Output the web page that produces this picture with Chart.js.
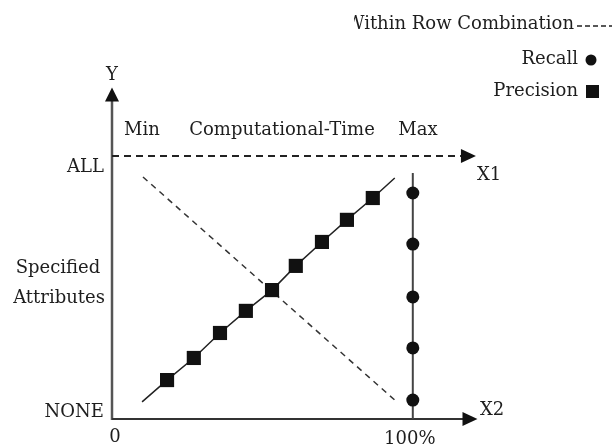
<!DOCTYPE html>
<html>
<head>
<meta charset="utf-8">
<script src="https://cdn.jsdelivr.net/npm/chart.js@4.4.0/dist/chart.umd.min.js"></script>
<style>
  html, body { margin: 0; padding: 0; background: #fff; }
  #wrap { width: 612px; height: 448px; position: relative; }
</style>
</head>
<body>
<div id="wrap"><canvas id="chart" width="612" height="448"></canvas></div>
<script>
// values; x: 0..100 (%), y: 0 = NONE .. 100 = ALL
const precisionX = [10, 18.3, 27.2, 35.9, 44.5, 53.2, 61.1, 69.8, 78.1, 86.7, 94];
const precisionY = [6.5, 14.8, 23.2, 32.7, 41.1, 49, 58.2, 67.3, 75.7, 84, 91.6];
const recallX = [100, 100, 100, 100, 100, 100, 100];
const recallY = [0, 7.2, 27, 46.4, 66.5, 85.9, 93.5];
const comboX = [10.3, 94];
const comboY = [92, 7.2];
const legendLabels = ['Within Row Combination', 'Recall', 'Precision'];
const xTickLabels = ['0', '100%'];
const yTickLabels = ['NONE', 'ALL'];
const timeLabels = ['Min', 'Computational-Time', 'Max'];
const yTitle = ['Specified', 'Attributes'];
const axisNames = ['Y', 'X1', 'X2'];

const FONT = '18px "DejaVu Serif", serif';
const INK = '#1e1e1e';

function toPoints(xs, ys) {
    return xs.map((x, i) => ({ x: x, y: ys[i] }));
}

function arrow(ctx, x, y, dir) {
    ctx.beginPath();
    if (dir === 'up') {
        ctx.moveTo(x, y);
        ctx.lineTo(x - 7, y + 14);
        ctx.lineTo(x + 7, y + 14);
    } else {
        ctx.moveTo(x, y);
        ctx.lineTo(x - 15, y - 7);
        ctx.lineTo(x - 15, y + 7);
    }
    ctx.closePath();
    ctx.fill();
}

const diagramPlugin = {
    id: 'diagram',
    beforeDatasetsDraw(chart) {
        const ctx = chart.ctx;
        const xs = chart.scales.x, ys = chart.scales.y;
        const x0 = xs.getPixelForValue(0);
        const y0 = ys.getPixelForValue(0);
        const yAll = ys.getPixelForValue(100);
        ctx.save();
        // Y axis
        ctx.strokeStyle = '#555';
        ctx.lineWidth = 2.5;
        ctx.beginPath();
        ctx.moveTo(x0, y0 + 1);
        ctx.lineTo(x0, ys.getPixelForValue(122));
        ctx.stroke();
        ctx.fillStyle = '#111';
        arrow(ctx, x0, ys.getPixelForValue(126), 'up');
        // X2 axis
        ctx.strokeStyle = '#333';
        ctx.lineWidth = 2;
        ctx.beginPath();
        ctx.moveTo(x0, y0);
        ctx.lineTo(xs.getPixelForValue(117), y0);
        ctx.stroke();
        arrow(ctx, xs.getPixelForValue(121.5), y0, 'right');
        // X1 dashed axis
        ctx.setLineDash([7, 5]);
        ctx.strokeStyle = '#222';
        ctx.beginPath();
        ctx.moveTo(x0, yAll);
        ctx.lineTo(xs.getPixelForValue(116), yAll);
        ctx.stroke();
        ctx.setLineDash([]);
        arrow(ctx, xs.getPixelForValue(121), yAll, 'right');

        // texts
        ctx.font = FONT;
        ctx.fillStyle = INK;
        ctx.textBaseline = 'middle';
        ctx.textAlign = 'center';
        ctx.fillText(axisNames[0], x0, 75);
        ctx.textAlign = 'left';
        ctx.fillText(axisNames[1], 477, 175);
        ctx.fillText(axisNames[2], 480, 410);
        ctx.textAlign = 'right';
        ctx.fillText(yTickLabels[1], 104, yAll + 11);
        ctx.fillText(yTickLabels[0], 104, y0 - 7);
        ctx.textAlign = 'center';
        ctx.fillText(yTitle[0], 58, 268);
        ctx.fillText(yTitle[1], 59, 298);
        ctx.fillText(xTickLabels[0], x0 + 3, 437);
        ctx.fillText(xTickLabels[1], xs.getPixelForValue(99), 439);
        ctx.fillText(timeLabels[0], 142, 130);
        ctx.fillText(timeLabels[1], 282, 130);
        ctx.fillText(timeLabels[2], 418, 130);

        // legend (first entry is cut on the left in the source)
        ctx.textAlign = 'right';
        ctx.save();
        ctx.beginPath();
        ctx.rect(354, 0, 258, 45);
        ctx.clip();
        ctx.fillText(legendLabels[0], 574, 24);
        ctx.restore();
        ctx.fillText(legendLabels[1], 578, 59);
        ctx.fillText(legendLabels[2], 578, 91);
        ctx.setLineDash([5, 3]);
        ctx.lineWidth = 1.5;
        ctx.strokeStyle = '#222';
        ctx.beginPath();
        ctx.moveTo(577, 26);
        ctx.lineTo(612, 26);
        ctx.stroke();
        ctx.setLineDash([]);
        ctx.fillStyle = '#111';
        ctx.beginPath();
        ctx.arc(591, 60, 5.5, 0, Math.PI * 2);
        ctx.fill();
        ctx.fillRect(586, 85, 13, 13);
        ctx.restore();
    }
};

new Chart(document.getElementById('chart'), {
    type: 'scatter',
    data: {
        datasets: [{
            label: legendLabels[2],
            data: toPoints(precisionX, precisionY),
            showLine: true,
            borderColor: '#222',
            borderWidth: 1.5,
            backgroundColor: '#111',
            pointStyle: 'rect',
            pointRadius: precisionX.map((v, i) => (i === 0 || i === precisionX.length - 1) ? 0 : 10),
            pointBorderWidth: 0
        }, {
            label: legendLabels[1],
            data: toPoints(recallX, recallY),
            showLine: true,
            borderColor: '#444',
            borderWidth: 2,
            backgroundColor: '#111',
            pointStyle: 'circle',
            pointRadius: recallX.map((v, i) => (i === 0 || i === recallX.length - 1) ? 0 : 6.5),
            pointBorderWidth: 0
        }, {
            label: legendLabels[0],
            data: toPoints(comboX, comboY),
            showLine: true,
            borderColor: '#333',
            borderWidth: 1.5,
            borderDash: [6, 5],
            pointRadius: 0
        }]
    },
    options: {
        responsive: false,
        animation: false,
        clip: false,
        layout: { padding: { left: 112, right: 124, top: 77, bottom: 29 } },
        scales: {
            x: { type: 'linear', min: 0, max: 125, display: false },
            y: { type: 'linear', min: 0, max: 130, display: false }
        },
        plugins: {
            legend: { display: false },
            tooltip: { enabled: false }
        }
    },
    plugins: [diagramPlugin]
});
</script>
</body>
</html>
